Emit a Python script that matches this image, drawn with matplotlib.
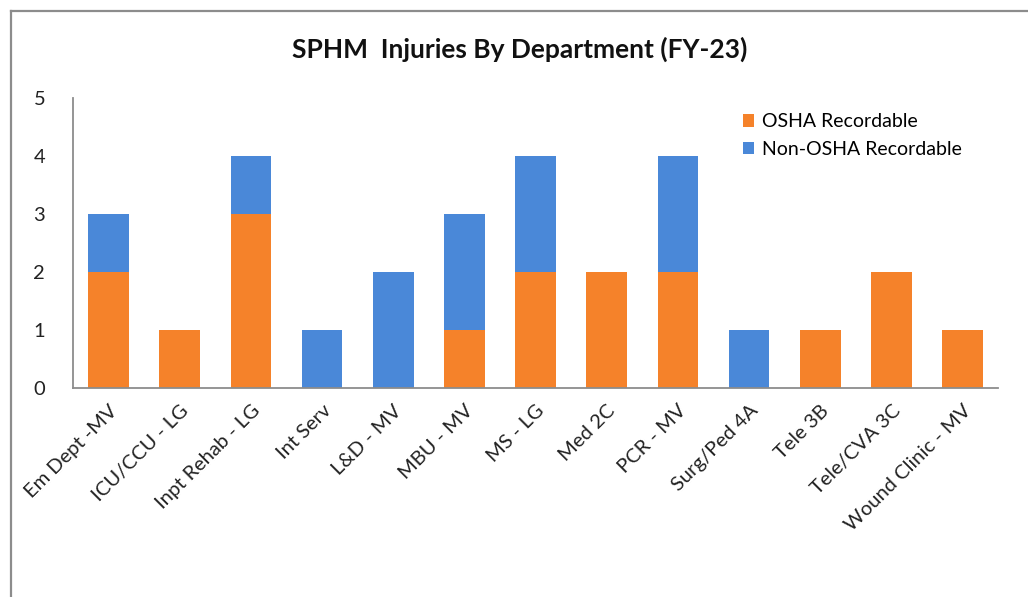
import numpy as np
import matplotlib
matplotlib.use("Agg")
import matplotlib.pyplot as plt
from matplotlib.lines import Line2D

plt.rcParams['font.family'] = ['Lato', 'DejaVu Sans']

departments = ['Em Dept -MV', 'ICU/CCU - LG', 'Inpt Rehab - LG', 'Int Serv',
               'L&D - MV', 'MBU - MV', 'MS - LG', 'Med 2C', 'PCR - MV',
               'Surg/Ped 4A', 'Tele 3B', 'Tele/CVA 3C', 'Wound Clinic - MV']
osha = [2, 1, 3, 0, 0, 1, 2, 2, 2, 0, 1, 2, 1]
non_osha = [1, 0, 1, 1, 2, 2, 2, 0, 2, 1, 0, 0, 0]

orange = '#F5822A'
blue = '#4A88D8'
gray = '#8C8C8C'

fig = plt.figure(figsize=(10.28, 5.97), dpi=100)
ax = fig.add_axes([0.071, 0.350, 0.900, 0.486])

x = np.arange(len(departments))
ax.bar(x, osha, width=0.57, color=orange, label='OSHA Recordable')
ax.bar(x, non_osha, width=0.57, bottom=osha, color=blue, label='Non-OSHA Recordable')

ax.set_xlim(-0.5, len(departments) - 0.5)
ax.set_ylim(0, 5)
ax.set_yticks(range(6))
ax.tick_params(length=0, labelsize=14.5, colors='#222222')
ax.tick_params(axis='y', pad=20)
ax.set_xticks(x)
ax.set_xticklabels(departments, rotation=45, ha='right', rotation_mode='anchor')
ax.tick_params(axis='x', pad=10)

for s in ['top', 'right']:
    ax.spines[s].set_visible(False)
for s in ['left', 'bottom']:
    ax.spines[s].set_color(gray)
    ax.spines[s].set_linewidth(1.3)

fig.text(0.506, 0.918, 'SPHM  Injuries By Department (FY-23)', ha='center',
         va='center', fontsize=19, fontweight='bold', color='#111111')

ax.legend(loc='upper left', bbox_to_anchor=(0.705, 1.007), frameon=False,
          fontsize=14, handlelength=0.6, handleheight=0.6, handletextpad=0.4,
          labelspacing=0.55)

# outer chart border (cropped on right and bottom)
fig.add_artist(Line2D([10.5 / 1028, 1], [1 - 10.5 / 597, 1 - 10.5 / 597],
                      transform=fig.transFigure, color=gray, lw=1.6))
fig.add_artist(Line2D([10.5 / 1028, 10.5 / 1028], [0, 1 - 10.5 / 597],
                      transform=fig.transFigure, color=gray, lw=1.6))

fig.savefig('out.png', dpi=100)
